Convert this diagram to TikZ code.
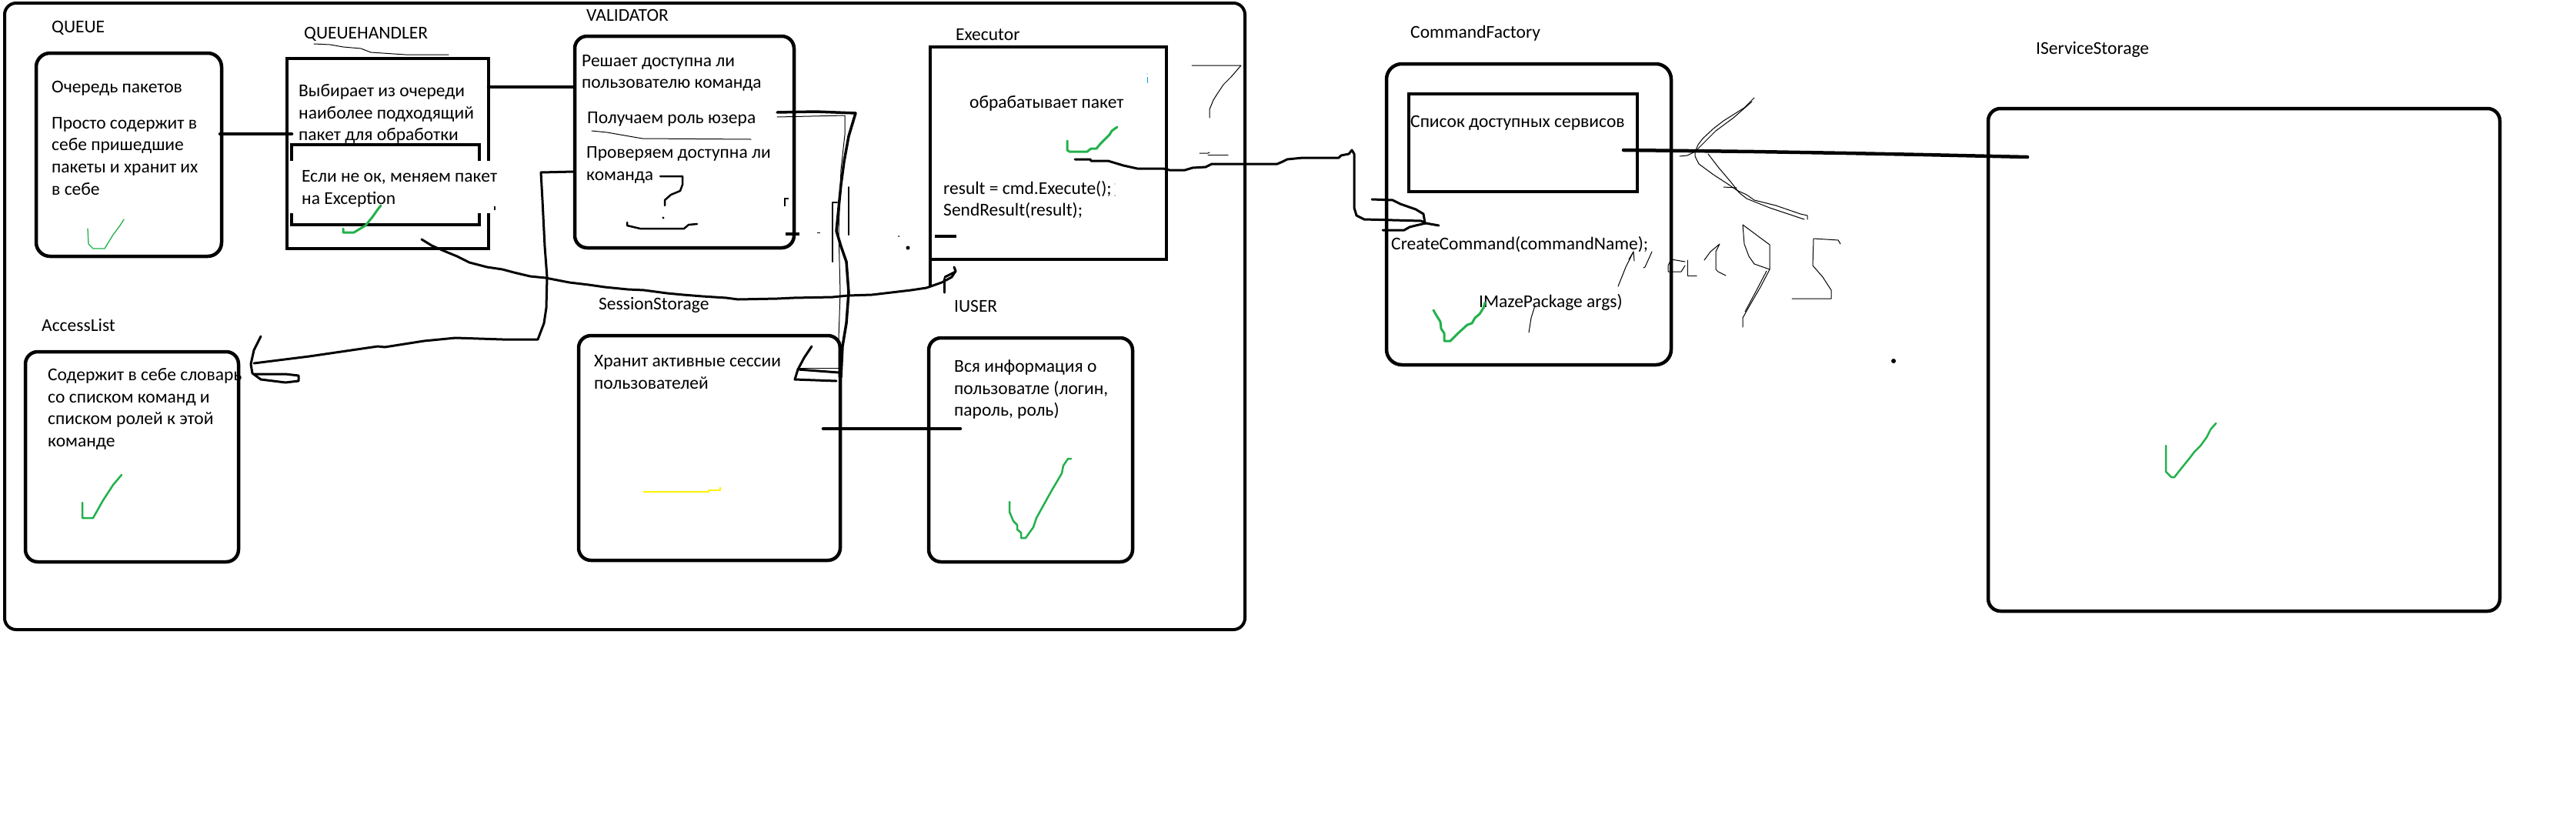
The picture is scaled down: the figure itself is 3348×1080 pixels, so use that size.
\documentclass[tikz,border=0pt]{standalone}
\usepackage{fontspec}
\setmainfont{Carlito}
\definecolor{pgreen}{RGB}{34,177,76}
\definecolor{pyellow}{RGB}{255,242,0}
\definecolor{pblue}{RGB}{0,162,232}
\begin{document}
\begin{tikzpicture}[x=1pt,y=-1pt,
  txt/.style={anchor=base west,inner sep=0pt,font=\fontsize{23.5}{28}\selectfont},
  rbox/.style={draw,line width=4.5pt,inner sep=0pt,rounded corners=16pt},
  sbox/.style={draw,line width=4.5pt,inner sep=0pt},
  conn/.style={line width=4.5pt,line cap=round},
  hand/.style={line width=3pt,line cap=round,line join=round},
  pencil/.style={line width=1pt,line cap=round,line join=round},
  tick/.style={pgreen,line width=3pt,line cap=round,line join=round},
  thintick/.style={pgreen,line width=1.3pt,line cap=round,line join=round}]
\fill[white] (0,0) rectangle (3348,1080);
\useasboundingbox (0,0) rectangle (3348,1080);

% ---------- boxes ----------
\node[rbox,line width=4pt,rounded corners=15pt,minimum width=1612pt,minimum height=814pt] (outer) at (812,411) {};
\node[rbox,rounded corners=18pt,minimum width=241pt,minimum height=264pt] (queue) at (167.5,201) {};
\node[sbox,minimum width=262pt,minimum height=247pt] (qh) at (504,199.5) {};
\node[rbox,minimum width=285pt,minimum height=275pt] (val) at (889.5,184.5) {};
\node[inner sep=0pt,minimum width=307pt,minimum height=276pt] (exec) at (1362.5,199) {};
\draw[line width=4.5pt] ([yshift=-34pt]exec.south west) -- (exec.north west) -- (exec.north east) -- (exec.south east) -- (exec.south west) -- ([yshift=24pt]exec.south west);
\node[rbox,minimum width=277pt,minimum height=273pt] (acc) at (171.5,593.5) {};
\node[rbox,minimum width=340pt,minimum height=292pt] (ss) at (922,582) {};
\node[rbox,minimum width=265pt,minimum height=291pt] (user) at (1339.5,584.5) {};
\node[rbox,rounded corners=20pt,minimum width=370pt,minimum height=391pt] (cf) at (1987,278.5) {};
\node[sbox,minimum width=297pt,minimum height=127pt] (cfin) at (1979.5,185.5) {};
\node[rbox,minimum width=665pt,minimum height=653pt] (iss) at (2916.5,467.5) {};
\node[sbox,minimum width=244pt,minimum height=104pt] (qhin) at (501,240) {};
% white band over the inner QUEUEHANDLER box
\fill[white] (377,209) rectangle (645,277);
\draw[line width=2pt] (643,268) -- (643,273);

% ---------- labels ----------
\node[txt] (lqueue) at (67,42) {QUEUE};
\node[txt] (lqh) at (395,50) {QUEUEHANDLER};
\node[txt] (lval) at (762,27) {VALIDATOR};
\node[txt] (lexec) at (1242,52) {Executor};
\node[txt] (lacc) at (54,430) {AccessList};
\node[txt] (lss) at (778,402) {SessionStorage};
\node[txt] (luser) at (1240,405) {IUSER};
\node[txt] (lcf) at (1833,49) {CommandFactory};
\node[txt] (liss) at (2646,70) {IServiceStorage};

% ---------- texts ----------
\node[txt] (q1) at (67,120) {Очередь пакетов};
\node[txt] (q2) at (67,167) {Просто содержит в};
\node[txt] (q3) at (67,195) {себе пришедшие};
\node[txt] (q4) at (67,224) {пакеты и хранит их};
\node[txt] (q5) at (67,253) {в себе};

\node[txt] (h1) at (388,125) {Выбирает из очереди};
\node[txt] (h2) at (388,154) {наиболее подходящий};
\node[txt] (h3) at (388,182) {пакет для обработки};
\begin{scope}
\clip (377,209) rectangle (645,277);
\node[txt] (h4) at (392,236) {Если не ок, меняем пакет};
\node[txt] (h5) at (392,265) {на Exception};
\end{scope}

\node[txt] (v1) at (756,86) {Решает доступна ли};
\node[txt] (v2) at (756,114) {пользователю команда};
\node[txt] (v3) at (763,160) {Получаем роль юзера};
\node[txt] (v4) at (762,205) {Проверяем доступна ли};
\node[txt] (v5) at (762,234) {команда};

\node[txt] (e1) at (1260,140) {обрабатывает пакет};
\node[txt] (e2) at (1226,252) {result = cmd.Execute();};
\node[txt] (e3) at (1226,280) {SendResult(result);};

\node[txt] (a1) at (62,494) {Содержит в себе словарь};
\node[txt] (a2) at (62,523) {со списком команд и};
\node[txt] (a3) at (62,551) {списком ролей к этой};
\node[txt] (a4) at (62,580) {команде};

\node[txt] (s1) at (772,476) {Хранит активные сессии};
\node[txt] (s2) at (772,505) {пользователей};

\node[txt] (u1) at (1240,483) {Вся информация о};
\node[txt] (u2) at (1240,512) {пользоватле (логин,};
\node[txt] (u3) at (1240,540) {пароль, роль)};

\node[txt] (c1) at (1833,165) {Список доступных сервисов};
\node[txt] (c2) at (1808,324) {CreateCommand(commandName);};
\node[txt] (c3) at (1922,399) {IMazePackage args)};

% ---------- straight connectors ----------
\coordinate (qa) at (286,174); \coordinate (qb) at (379,174);
\draw[conn] (qa) -- (qb);
\coordinate (ha) at (635,113); \coordinate (hb) at (746,113);
\draw[conn] (ha) -- (hb);
\coordinate (sa) at (1070,557); \coordinate (sb) at (1248,557);
\draw[conn] (sa) -- (sb);
\coordinate (ca) at (2110,195); \coordinate (cb) at (2635,204);
\draw[conn] (ca) -- (2280,197) -- (2400,199) -- (2500,201) -- (cb);

% ---------- hand-drawn connectors ----------
% VALIDATOR -> AccessList
\coordinate (va) at (746,223); \coordinate (vb) at (330,472);
\draw[hand] (va) -- (703,224) -- (705,260) -- (708,320) -- (711,360) -- (710,400) -- (707,420) -- (699,441) -- (653,441) -- (592,439) -- (551,443) -- (500,451) -- (491,450) -- (402,463) -- (vb);
\draw[hand] (339,437) -- (330,455) -- (326,473) -- (328,485) -- (339,493) -- (371,497) -- (388,495) -- (388,488) -- (371,486) -- (330,486);

% QUEUEHANDLER -> near Executor
\coordinate (wa) at (548,311); \coordinate (wb) at (1240,347);
\draw[hand] (wa) -- (561,319) -- (577,326) -- (594,333) -- (610,341) -- (633,347) -- (653,350) -- (668,354) -- (689,359) -- (709,361) -- (740,367) -- (765,370) -- (786,373) -- (816,376) -- (837,377) -- (867,381) -- (888,383) -- (913,385) -- (944,387) -- (959,389) -- (1010,388) -- (1031,387) -- (1082,386) -- (1102,384) -- (1133,383) -- (1184,377) -- (1204,374) -- (1224,367) -- (1237,360) -- (1242,352) -- (wb);
\draw[hand] (1228,360) -- (1242,353);
\draw[hand] (1227,362) -- (1227,380);

% VALIDATOR -> SessionStorage
\coordinate (xa) at (1010,146); \coordinate (xb) at (1093,490);
\draw[hand,line width=3.5pt] (xa) -- (1060,145) -- (1112,147) -- (1103,177) -- (1097,210) -- (1093,240) -- (1090,270) -- (1087,300) -- (1093,320) -- (1100,340) -- (1103,380) -- (1100,420) -- (1095,450) -- (xb);
\draw[pencil] (1010,152) -- (1098,150) -- (1098,175) -- (1093,220) -- (1090,300) -- (1092,380) -- (1090,440) -- (1090,490);
\draw[hand,line width=2pt] (1088,263) -- (1082,263) -- (1082,340);
\draw[hand,line width=2pt] (1103,243) -- (1103,305);
\draw[hand] (1055,450) -- (1045,465) -- (1037,480) -- (1033,493) -- (1087,495);
\draw[hand] (1037,480) -- (1090,484);
\draw[pencil] (1037,478) -- (1090,478);

% Executor -> CommandFactory
\coordinate (ya) at (1397,207); \coordinate (yb) at (1870,293);
\draw[hand] (ya) -- (1417,207) -- (1418,209) -- (1440,209) -- (1460,215) -- (1478,219) -- (1512,219) -- (1520,221) -- (1540,221) -- (1550,218) -- (1567,217) -- (1575,213) -- (1660,213) -- (1667,210) -- (1673,207) -- (1693,205) -- (1740,205) -- (1743,202) -- (1753,200) -- (1757,195) -- (1760,200) -- (1760,270) -- (1763,280) -- (1773,285) -- (1847,287) -- (1853,290) -- (yb);
\draw[hand] (1783,259) -- (1810,260) -- (1820,265) -- (1840,272) -- (1850,278) -- (1852,290);
\draw[hand] (1797,299) -- (1825,299) -- (1832,295) -- (1840,293) -- (1853,290);

% ---------- small marks ----------
\draw[hand,line width=2.5pt] (858,229) -- (887,229) -- (887,240) -- (884,248) -- (872,253) -- (864,260) -- (864,267);
\fill (862,283) circle (1.6pt);
\draw[hand,line width=2.5pt] (815,289) -- (815,293) -- (832,297) -- (889,297) -- (895,292) -- (906,291);
\draw[line width=1.5pt] (1020,268) -- (1020,258) -- (1025,258);
\draw[line width=4.5pt] (1021,304) -- (1039,304);
\draw[line width=1pt] (1062,302) -- (1066,302);
\draw[line width=4.5pt] (1215,307) -- (1243,307);
\fill (1180,322) circle (2.5pt);
\fill (1168,307) circle (1pt);
\draw[pblue,line width=1pt] (1491,100) -- (1491,108);
\fill[pblue] (1491,96) circle (0.6pt);
\fill[pblue] (1449,239) circle (0.7pt);
\fill (1449,254) circle (0.7pt);

\draw[pencil] (408,57) -- (429,58) -- (446,61) -- (469,63) -- (482,68) -- (527,71) -- (583,71);
\draw[pencil] (769,170) -- (789,172) -- (806,175) -- (835,180) -- (976,181);

\draw[pencil] (1549,85) -- (1613,85) -- (1600,100) -- (1590,110) -- (1582,122) -- (1577,130) -- (1572,142) -- (1572,153);
\draw[pencil] (1559,199) -- (1570,199) -- (1572,198);
\draw[pencil] (1570,201) -- (1596,201);

\draw[pencil] (2103,372) -- (2113,347) -- (2123,327);
\draw[pencil] (2117,337) -- (2123,327) -- (2124,339);
\draw[pencil] (2147,327) -- (2142,338) -- (2138,347) -- (2136,348);
\draw[pencil] (1995,397) -- (1990,413) -- (1987,432);
\draw[pencil] (2190,340) -- (2172,337) -- (2168,345) -- (2168,353) -- (2185,353) -- (2190,345);
\draw[pencil] (2193,338) -- (2193,358) -- (2205,358);
\draw[pencil] (2215,338) -- (2223,327) -- (2235,317) -- (2230,327) -- (2230,350) -- (2233,353) -- (2243,358);
\draw[pencil] (2280,127) -- (2267,140) -- (2240,157) -- (2227,167) -- (2213,180) -- (2207,188) -- (2203,197) -- (2193,202) -- (2183,203);
\draw[pencil] (2277,132) -- (2253,153) -- (2230,170) -- (2210,190) -- (2203,197);
\draw[pencil] (2203,197) -- (2203,203) -- (2208,213) -- (2227,227) -- (2247,240) -- (2257,247) -- (2270,253) -- (2280,260) -- (2308,267) -- (2340,278) -- (2349,280) -- (2349,285);
\draw[pencil] (2220,200) -- (2233,217) -- (2250,237) -- (2260,250) -- (2270,258) -- (2300,270) -- (2345,285);
\draw[pencil] (2240,243) -- (2257,244);
\draw[pencil] (2265,292) -- (2267,317) -- (2273,333) -- (2280,343) -- (2300,350) -- (2300,318) -- (2265,292);
\draw[pencil] (2300,350) -- (2288,373) -- (2274,397) -- (2265,413) -- (2265,425);
\draw[pencil] (2296,352) -- (2284,375) -- (2268,405);
\draw[pencil] (2392,317) -- (2389,312) -- (2357,310) -- (2356,345) -- (2369,360) -- (2380,377) -- (2380,388) -- (2329,388);
\fill (2461,469) circle (3pt);

% ---------- ticks ----------
\draw[thintick] (114,297) -- (115,317) -- (121,323) -- (136,323) -- (147,305) -- (156,293) -- (161,285);
\draw[tick] (446,297) -- (446,302) -- (460,302) -- (475,293) -- (484,282) -- (491,272) -- (495,267);
\draw[tick,line width=2.5pt] (107,653) -- (107,673) -- (121,673) -- (134,650) -- (147,630) -- (158,617);
\draw[tick] (1387,183) -- (1387,195) -- (1390,197) -- (1413,197) -- (1418,193) -- (1425,193) -- (1430,187) -- (1442,175) -- (1445,170) -- (1452,165);
\draw[tick,line width=2.5pt] (1312,652) -- (1312,665) -- (1317,677) -- (1322,682) -- (1322,688) -- (1327,692) -- (1327,699) -- (1333,699) -- (1343,685) -- (1347,673) -- (1357,655) -- (1367,637) -- (1380,615) -- (1382,605) -- (1388,596) -- (1392,596);
\draw[tick] (1863,403) -- (1867,410) -- (1872,418) -- (1873,427) -- (1877,433) -- (1877,443) -- (1885,443) -- (1895,433) -- (1907,422) -- (1913,420) -- (1917,413) -- (1923,408) -- (1928,400) -- (1930,393);
\draw[tick,line width=2.5pt] (2815,579) -- (2815,613) -- (2822,620) -- (2826,620) -- (2833,611) -- (2846,595) -- (2852,587) -- (2860,579) -- (2868,568) -- (2873,558) -- (2880,550);
\draw[pyellow,line width=2.5pt] (836,639) -- (921,639) -- (921,637) -- (936,637) -- (936,633);
\end{tikzpicture}
\end{document}
